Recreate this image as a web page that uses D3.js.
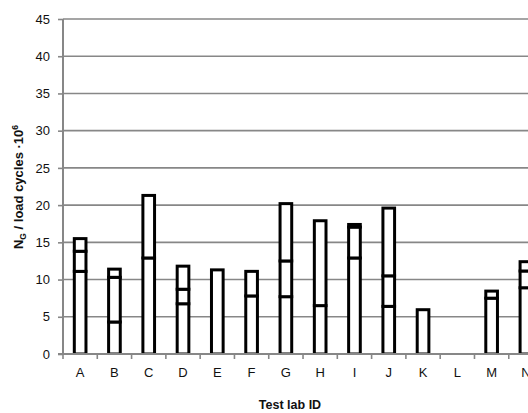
<!DOCTYPE html>
<html>
<head>
<meta charset="utf-8">
<script src="https://cdn.jsdelivr.net/npm/d3@7"></script>
<style>
  html, body { margin: 0; padding: 0; background: #fff; }
  svg { display: block; font-family: "Liberation Sans", Arial, sans-serif; }
</style>
</head>
<body>
<svg id="chart" width="528" height="413"></svg>
<script>
// ---- Data ----
const labs = ["A","B","C","D","E","F","G","H","I","J","K","L","M","N"];
// cumulative segment boundaries (load cycles x 10^6), bottom to top
const level1 = [11.1, 4.3, 12.9, 6.75, 11.3, 7.8, 7.7, 6.5, 12.9, 6.4, 5.95, null, 7.5, 8.9];
const level2 = [13.8, 10.3, 21.3, 8.7, null, 11.1, 12.5, 17.9, 17.05, 10.5, null, null, 8.45, 11.15];
const level3 = [15.5, 11.4, null, 11.8, null, null, 20.2, null, 17.4, 19.6, null, null, null, 12.4];
const yTicks = [0, 5, 10, 15, 20, 25, 30, 35, 40, 45];

// ---- Layout ----
(function () {
const svg = d3.select("#chart");
const mLeft = 63, mTop = 19, mBottom = 354;
const step = 34.29;
const x = d3.scaleBand().domain(labs).range([mLeft, mLeft + step * labs.length]).padding(0);
const y = d3.scaleLinear().domain([0, 45]).range([mBottom, mTop]);
const barW = x.bandwidth() * 0.34;
const grey = "#878787";

// gridlines
svg.append("g").selectAll("line").data(yTicks.filter(d => d > 0)).join("line")
  .attr("x1", mLeft).attr("x2", 528)
  .attr("y1", d => y(d)).attr("y2", d => y(d))
  .attr("stroke", grey).attr("stroke-width", 1.6);

// clip for bars (above baseline)
svg.append("defs").append("clipPath").attr("id", "plotclip")
  .append("rect").attr("x", mLeft).attr("y", 0).attr("width", 600).attr("height", mBottom);

// segments
const segs = [];
labs.forEach((lab, i) => {
  const levels = [0, level1[i], level2[i], level3[i]];
  for (let k = 1; k < levels.length; k++) {
    if (levels[k] == null) break;
    segs.push({lab, y0: levels[k - 1], y1: levels[k]});
  }
});
svg.append("g").attr("clip-path", "url(#plotclip)")
  .selectAll("rect").data(segs).join("rect")
  .attr("x", d => x(d.lab) + x.bandwidth() / 2 - barW / 2)
  .attr("width", barW)
  .attr("y", d => y(d.y1))
  .attr("height", d => y(d.y0) - y(d.y1))
  .attr("fill", "#fff").attr("stroke", "#000").attr("stroke-width", 3);

// y axis
const yAxis = svg.append("g").attr("transform", `translate(${mLeft},0)`)
  .call(d3.axisLeft(y).tickValues(yTicks).tickSize(5).tickPadding(8));
yAxis.select(".domain").attr("stroke", grey).attr("stroke-width", 2).attr("d", `M0,${mTop}V${mBottom}`);
yAxis.selectAll(".tick line").attr("stroke", grey).attr("stroke-width", 1.6);
yAxis.selectAll("text").attr("font-size", 13).attr("fill", "#111")
  .attr("font-family", "'Liberation Sans', Arial, sans-serif");

// x axis
const xg = svg.append("g").attr("transform", `translate(0,${mBottom})`);
xg.append("line").attr("x1", mLeft - 5).attr("x2", 528).attr("y1", 0).attr("y2", 0)
  .attr("stroke", grey).attr("stroke-width", 2);
const bounds = labs.map(l => x(l)).concat([x(labs[labs.length - 1]) + x.bandwidth()]);
xg.selectAll("line.tk").data(bounds).join("line").attr("class", "tk")
  .attr("x1", d => d).attr("x2", d => d).attr("y1", 0).attr("y2", 5)
  .attr("stroke", grey).attr("stroke-width", 1.6);
xg.selectAll("text").data(labs).join("text")
  .attr("x", d => x(d) + x.bandwidth() / 2).attr("y", 23)
  .attr("text-anchor", "middle").attr("font-size", 13).attr("fill", "#111")
  .text(d => d);

// axis titles
svg.append("text").attr("x", 290).attr("y", 409).attr("text-anchor", "middle")
  .attr("font-size", 12.5).attr("font-weight", "bold").attr("fill", "#111")
  .text("Test lab ID");

const yt = svg.append("text").attr("transform", "translate(23,187) rotate(-90)")
  .attr("text-anchor", "middle").attr("font-size", 13).attr("font-weight", "bold").attr("fill", "#111");
yt.append("tspan").text("N");
yt.append("tspan").attr("font-size", 8.5).attr("dy", 3).text("G");
yt.append("tspan").attr("dy", -3).text(" / load cycles ·10");
yt.append("tspan").attr("font-size", 8.5).attr("dy", -5).text("6");
})();
</script>
</body>
</html>
